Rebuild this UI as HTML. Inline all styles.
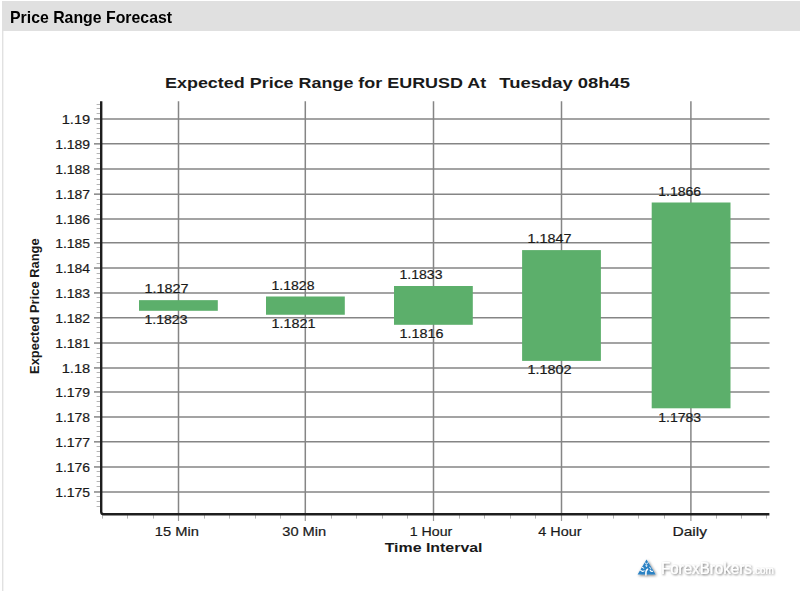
<!DOCTYPE html>
<html><head><meta charset="utf-8"><style>
html,body{margin:0;padding:0;width:800px;height:591px;overflow:hidden;background:#fff;position:relative}
#hdr{position:absolute;left:2px;top:1px;width:798px;height:30px;background:#e0e0e0}
#hdr span{position:absolute;left:8.1px;top:7px;font:bold 16.6px "Liberation Sans", sans-serif;letter-spacing:0px;color:#000;white-space:nowrap;transform:scaleX(0.955);transform-origin:0 0}
#lb{position:absolute;left:2px;top:31px;width:1px;height:560px;background:#e1e1e1;box-shadow:1px 0 0 #f3f3f3}
</style></head><body>
<div id="hdr"><span>Price Range Forecast</span></div>
<div id="lb"></div>
<svg width="800" height="591" style="position:absolute;left:0;top:0">
<line x1="102" y1="118.93" x2="769.5" y2="118.93" stroke="#858585" stroke-width="1.5"/>
<line x1="102" y1="143.84" x2="769.5" y2="143.84" stroke="#858585" stroke-width="1.5"/>
<line x1="102" y1="168.96" x2="769.5" y2="168.96" stroke="#858585" stroke-width="1.5"/>
<line x1="102" y1="194.16" x2="769.5" y2="194.16" stroke="#858585" stroke-width="1.5"/>
<line x1="102" y1="219.06" x2="769.5" y2="219.06" stroke="#858585" stroke-width="1.5"/>
<line x1="102" y1="242.85" x2="769.5" y2="242.85" stroke="#858585" stroke-width="1.5"/>
<line x1="102" y1="268.04" x2="769.5" y2="268.04" stroke="#858585" stroke-width="1.5"/>
<line x1="102" y1="292.94" x2="769.5" y2="292.94" stroke="#858585" stroke-width="1.5"/>
<line x1="102" y1="317.85" x2="769.5" y2="317.85" stroke="#858585" stroke-width="1.5"/>
<line x1="102" y1="343.04" x2="769.5" y2="343.04" stroke="#858585" stroke-width="1.5"/>
<line x1="102" y1="367.94" x2="769.5" y2="367.94" stroke="#858585" stroke-width="1.5"/>
<line x1="102" y1="391.95" x2="769.5" y2="391.95" stroke="#858585" stroke-width="1.5"/>
<line x1="102" y1="416.92" x2="769.5" y2="416.92" stroke="#858585" stroke-width="1.5"/>
<line x1="102" y1="441.83" x2="769.5" y2="441.83" stroke="#858585" stroke-width="1.5"/>
<line x1="102" y1="466.95" x2="769.5" y2="466.95" stroke="#858585" stroke-width="1.5"/>
<line x1="102" y1="491.98" x2="769.5" y2="491.98" stroke="#858585" stroke-width="1.5"/>
<line x1="178.50" y1="101.2" x2="178.50" y2="513" stroke="#858585" stroke-width="1.5"/>
<line x1="305.30" y1="101.2" x2="305.30" y2="513" stroke="#858585" stroke-width="1.5"/>
<line x1="433.50" y1="101.2" x2="433.50" y2="513" stroke="#858585" stroke-width="1.5"/>
<line x1="561.50" y1="101.2" x2="561.50" y2="513" stroke="#858585" stroke-width="1.5"/>
<line x1="690.90" y1="101.2" x2="690.90" y2="513" stroke="#858585" stroke-width="1.5"/>
<rect x="139.00" y="300.15" width="78.8" height="10.65" fill="#5caf6b"/>
<rect x="266.00" y="296.50" width="78.8" height="18.25" fill="#5caf6b"/>
<rect x="394.00" y="286.00" width="78.8" height="38.80" fill="#5caf6b"/>
<rect x="522.10" y="250.10" width="78.8" height="110.80" fill="#5caf6b"/>
<rect x="651.70" y="202.50" width="78.8" height="205.80" fill="#5caf6b"/>
<line x1="96.6" y1="104.50" x2="101" y2="104.50" stroke="#b4b4b4" stroke-width="1"/>
<line x1="96.6" y1="108.50" x2="101" y2="108.50" stroke="#b4b4b4" stroke-width="1"/>
<line x1="96.6" y1="113.50" x2="101" y2="113.50" stroke="#b4b4b4" stroke-width="1"/>
<line x1="94" y1="118.93" x2="101" y2="118.93" stroke="#858585" stroke-width="1.5"/>
<line x1="96.6" y1="123.50" x2="101" y2="123.50" stroke="#b4b4b4" stroke-width="1"/>
<line x1="96.6" y1="128.50" x2="101" y2="128.50" stroke="#b4b4b4" stroke-width="1"/>
<line x1="96.6" y1="133.50" x2="101" y2="133.50" stroke="#b4b4b4" stroke-width="1"/>
<line x1="96.6" y1="138.50" x2="101" y2="138.50" stroke="#b4b4b4" stroke-width="1"/>
<line x1="94" y1="143.84" x2="101" y2="143.84" stroke="#858585" stroke-width="1.5"/>
<line x1="96.6" y1="148.50" x2="101" y2="148.50" stroke="#b4b4b4" stroke-width="1"/>
<line x1="96.6" y1="153.50" x2="101" y2="153.50" stroke="#b4b4b4" stroke-width="1"/>
<line x1="96.6" y1="158.50" x2="101" y2="158.50" stroke="#b4b4b4" stroke-width="1"/>
<line x1="96.6" y1="163.50" x2="101" y2="163.50" stroke="#b4b4b4" stroke-width="1"/>
<line x1="94" y1="168.96" x2="101" y2="168.96" stroke="#858585" stroke-width="1.5"/>
<line x1="96.6" y1="174.50" x2="101" y2="174.50" stroke="#b4b4b4" stroke-width="1"/>
<line x1="96.6" y1="179.50" x2="101" y2="179.50" stroke="#b4b4b4" stroke-width="1"/>
<line x1="96.6" y1="184.50" x2="101" y2="184.50" stroke="#b4b4b4" stroke-width="1"/>
<line x1="96.6" y1="189.50" x2="101" y2="189.50" stroke="#b4b4b4" stroke-width="1"/>
<line x1="94" y1="194.16" x2="101" y2="194.16" stroke="#858585" stroke-width="1.5"/>
<line x1="96.6" y1="199.50" x2="101" y2="199.50" stroke="#b4b4b4" stroke-width="1"/>
<line x1="96.6" y1="204.50" x2="101" y2="204.50" stroke="#b4b4b4" stroke-width="1"/>
<line x1="96.6" y1="209.50" x2="101" y2="209.50" stroke="#b4b4b4" stroke-width="1"/>
<line x1="96.6" y1="214.50" x2="101" y2="214.50" stroke="#b4b4b4" stroke-width="1"/>
<line x1="94" y1="219.06" x2="101" y2="219.06" stroke="#858585" stroke-width="1.5"/>
<line x1="96.6" y1="223.50" x2="101" y2="223.50" stroke="#b4b4b4" stroke-width="1"/>
<line x1="96.6" y1="228.50" x2="101" y2="228.50" stroke="#b4b4b4" stroke-width="1"/>
<line x1="96.6" y1="233.50" x2="101" y2="233.50" stroke="#b4b4b4" stroke-width="1"/>
<line x1="96.6" y1="238.50" x2="101" y2="238.50" stroke="#b4b4b4" stroke-width="1"/>
<line x1="94" y1="242.85" x2="101" y2="242.85" stroke="#858585" stroke-width="1.5"/>
<line x1="96.6" y1="247.50" x2="101" y2="247.50" stroke="#b4b4b4" stroke-width="1"/>
<line x1="96.6" y1="252.50" x2="101" y2="252.50" stroke="#b4b4b4" stroke-width="1"/>
<line x1="96.6" y1="257.50" x2="101" y2="257.50" stroke="#b4b4b4" stroke-width="1"/>
<line x1="96.6" y1="263.50" x2="101" y2="263.50" stroke="#b4b4b4" stroke-width="1"/>
<line x1="94" y1="268.04" x2="101" y2="268.04" stroke="#858585" stroke-width="1.5"/>
<line x1="96.6" y1="273.50" x2="101" y2="273.50" stroke="#b4b4b4" stroke-width="1"/>
<line x1="96.6" y1="278.50" x2="101" y2="278.50" stroke="#b4b4b4" stroke-width="1"/>
<line x1="96.6" y1="282.50" x2="101" y2="282.50" stroke="#b4b4b4" stroke-width="1"/>
<line x1="96.6" y1="287.50" x2="101" y2="287.50" stroke="#b4b4b4" stroke-width="1"/>
<line x1="94" y1="292.94" x2="101" y2="292.94" stroke="#858585" stroke-width="1.5"/>
<line x1="96.6" y1="297.50" x2="101" y2="297.50" stroke="#b4b4b4" stroke-width="1"/>
<line x1="96.6" y1="302.50" x2="101" y2="302.50" stroke="#b4b4b4" stroke-width="1"/>
<line x1="96.6" y1="307.50" x2="101" y2="307.50" stroke="#b4b4b4" stroke-width="1"/>
<line x1="96.6" y1="312.50" x2="101" y2="312.50" stroke="#b4b4b4" stroke-width="1"/>
<line x1="94" y1="317.85" x2="101" y2="317.85" stroke="#858585" stroke-width="1.5"/>
<line x1="96.6" y1="322.50" x2="101" y2="322.50" stroke="#b4b4b4" stroke-width="1"/>
<line x1="96.6" y1="327.50" x2="101" y2="327.50" stroke="#b4b4b4" stroke-width="1"/>
<line x1="96.6" y1="332.50" x2="101" y2="332.50" stroke="#b4b4b4" stroke-width="1"/>
<line x1="96.6" y1="338.50" x2="101" y2="338.50" stroke="#b4b4b4" stroke-width="1"/>
<line x1="94" y1="343.04" x2="101" y2="343.04" stroke="#858585" stroke-width="1.5"/>
<line x1="96.6" y1="348.50" x2="101" y2="348.50" stroke="#b4b4b4" stroke-width="1"/>
<line x1="96.6" y1="353.50" x2="101" y2="353.50" stroke="#b4b4b4" stroke-width="1"/>
<line x1="96.6" y1="357.50" x2="101" y2="357.50" stroke="#b4b4b4" stroke-width="1"/>
<line x1="96.6" y1="362.50" x2="101" y2="362.50" stroke="#b4b4b4" stroke-width="1"/>
<line x1="94" y1="367.94" x2="101" y2="367.94" stroke="#858585" stroke-width="1.5"/>
<line x1="96.6" y1="372.50" x2="101" y2="372.50" stroke="#b4b4b4" stroke-width="1"/>
<line x1="96.6" y1="377.50" x2="101" y2="377.50" stroke="#b4b4b4" stroke-width="1"/>
<line x1="96.6" y1="382.50" x2="101" y2="382.50" stroke="#b4b4b4" stroke-width="1"/>
<line x1="96.6" y1="387.50" x2="101" y2="387.50" stroke="#b4b4b4" stroke-width="1"/>
<line x1="94" y1="391.95" x2="101" y2="391.95" stroke="#858585" stroke-width="1.5"/>
<line x1="96.6" y1="396.50" x2="101" y2="396.50" stroke="#b4b4b4" stroke-width="1"/>
<line x1="96.6" y1="401.50" x2="101" y2="401.50" stroke="#b4b4b4" stroke-width="1"/>
<line x1="96.6" y1="406.50" x2="101" y2="406.50" stroke="#b4b4b4" stroke-width="1"/>
<line x1="96.6" y1="411.50" x2="101" y2="411.50" stroke="#b4b4b4" stroke-width="1"/>
<line x1="94" y1="416.92" x2="101" y2="416.92" stroke="#858585" stroke-width="1.5"/>
<line x1="96.6" y1="421.50" x2="101" y2="421.50" stroke="#b4b4b4" stroke-width="1"/>
<line x1="96.6" y1="426.50" x2="101" y2="426.50" stroke="#b4b4b4" stroke-width="1"/>
<line x1="96.6" y1="431.50" x2="101" y2="431.50" stroke="#b4b4b4" stroke-width="1"/>
<line x1="96.6" y1="436.50" x2="101" y2="436.50" stroke="#b4b4b4" stroke-width="1"/>
<line x1="94" y1="441.83" x2="101" y2="441.83" stroke="#858585" stroke-width="1.5"/>
<line x1="96.6" y1="446.50" x2="101" y2="446.50" stroke="#b4b4b4" stroke-width="1"/>
<line x1="96.6" y1="451.50" x2="101" y2="451.50" stroke="#b4b4b4" stroke-width="1"/>
<line x1="96.6" y1="456.50" x2="101" y2="456.50" stroke="#b4b4b4" stroke-width="1"/>
<line x1="96.6" y1="461.50" x2="101" y2="461.50" stroke="#b4b4b4" stroke-width="1"/>
<line x1="94" y1="466.95" x2="101" y2="466.95" stroke="#858585" stroke-width="1.5"/>
<line x1="96.6" y1="471.50" x2="101" y2="471.50" stroke="#b4b4b4" stroke-width="1"/>
<line x1="96.6" y1="476.50" x2="101" y2="476.50" stroke="#b4b4b4" stroke-width="1"/>
<line x1="96.6" y1="481.50" x2="101" y2="481.50" stroke="#b4b4b4" stroke-width="1"/>
<line x1="96.6" y1="486.50" x2="101" y2="486.50" stroke="#b4b4b4" stroke-width="1"/>
<line x1="94" y1="491.98" x2="101" y2="491.98" stroke="#858585" stroke-width="1.5"/>
<line x1="96.6" y1="496.50" x2="101" y2="496.50" stroke="#b4b4b4" stroke-width="1"/>
<line x1="96.6" y1="501.50" x2="101" y2="501.50" stroke="#b4b4b4" stroke-width="1"/>
<line x1="96.6" y1="506.50" x2="101" y2="506.50" stroke="#b4b4b4" stroke-width="1"/>
<line x1="178.50" y1="514" x2="178.50" y2="521" stroke="#9a9a9a" stroke-width="1.2"/>
<line x1="305.30" y1="514" x2="305.30" y2="521" stroke="#9a9a9a" stroke-width="1.2"/>
<line x1="433.50" y1="514" x2="433.50" y2="521" stroke="#9a9a9a" stroke-width="1.2"/>
<line x1="561.50" y1="514" x2="561.50" y2="521" stroke="#9a9a9a" stroke-width="1.2"/>
<line x1="690.90" y1="514" x2="690.90" y2="521" stroke="#9a9a9a" stroke-width="1.2"/>
<line x1="102.50" y1="514" x2="102.50" y2="518.6" stroke="#b4b4b4" stroke-width="1"/>
<line x1="127.50" y1="514" x2="127.50" y2="518.6" stroke="#b4b4b4" stroke-width="1"/>
<line x1="153.50" y1="514" x2="153.50" y2="518.6" stroke="#b4b4b4" stroke-width="1"/>
<line x1="204.50" y1="514" x2="204.50" y2="518.6" stroke="#b4b4b4" stroke-width="1"/>
<line x1="229.50" y1="514" x2="229.50" y2="518.6" stroke="#b4b4b4" stroke-width="1"/>
<line x1="255.50" y1="514" x2="255.50" y2="518.6" stroke="#b4b4b4" stroke-width="1"/>
<line x1="280.50" y1="514" x2="280.50" y2="518.6" stroke="#b4b4b4" stroke-width="1"/>
<line x1="331.50" y1="514" x2="331.50" y2="518.6" stroke="#b4b4b4" stroke-width="1"/>
<line x1="356.50" y1="514" x2="356.50" y2="518.6" stroke="#b4b4b4" stroke-width="1"/>
<line x1="382.50" y1="514" x2="382.50" y2="518.6" stroke="#b4b4b4" stroke-width="1"/>
<line x1="407.50" y1="514" x2="407.50" y2="518.6" stroke="#b4b4b4" stroke-width="1"/>
<line x1="459.50" y1="514" x2="459.50" y2="518.6" stroke="#b4b4b4" stroke-width="1"/>
<line x1="484.50" y1="514" x2="484.50" y2="518.6" stroke="#b4b4b4" stroke-width="1"/>
<line x1="510.50" y1="514" x2="510.50" y2="518.6" stroke="#b4b4b4" stroke-width="1"/>
<line x1="535.50" y1="514" x2="535.50" y2="518.6" stroke="#b4b4b4" stroke-width="1"/>
<line x1="587.50" y1="514" x2="587.50" y2="518.6" stroke="#b4b4b4" stroke-width="1"/>
<line x1="613.50" y1="514" x2="613.50" y2="518.6" stroke="#b4b4b4" stroke-width="1"/>
<line x1="638.50" y1="514" x2="638.50" y2="518.6" stroke="#b4b4b4" stroke-width="1"/>
<line x1="664.50" y1="514" x2="664.50" y2="518.6" stroke="#b4b4b4" stroke-width="1"/>
<line x1="716.50" y1="514" x2="716.50" y2="518.6" stroke="#b4b4b4" stroke-width="1"/>
<line x1="741.50" y1="514" x2="741.50" y2="518.6" stroke="#b4b4b4" stroke-width="1"/>
<line x1="766.50" y1="514" x2="766.50" y2="518.6" stroke="#b4b4b4" stroke-width="1"/>
<path d="M101.2 101.2 L101.2 511.7 Q101.2 514.2 103.7 514.2 L769.4 514.2" fill="none" stroke="#1e1e1e" stroke-width="2.4"/>
<text x="165.00" y="87.50" font-family='"Liberation Sans", sans-serif' font-size="15.5" fill="#1a1a1a" font-weight="bold" textLength="321.20" lengthAdjust="spacingAndGlyphs" xml:space="preserve">Expected Price Range for EURUSD At</text>
<text x="499.30" y="87.50" font-family='"Liberation Sans", sans-serif' font-size="15.5" fill="#1a1a1a" font-weight="bold" textLength="130.82" lengthAdjust="spacingAndGlyphs" xml:space="preserve">Tuesday 08h45</text>
<text x="61.70" y="123.63" font-family='"Liberation Sans", sans-serif' font-size="12.7" fill="#1a1a1a" stroke="#1a1a1a" stroke-width="0.2" textLength="28.53" lengthAdjust="spacingAndGlyphs" xml:space="preserve">1.19</text>
<text x="55.20" y="148.54" font-family='"Liberation Sans", sans-serif' font-size="12.7" fill="#1a1a1a" stroke="#1a1a1a" stroke-width="0.2" textLength="34.92" lengthAdjust="spacingAndGlyphs" xml:space="preserve">1.189</text>
<text x="55.20" y="173.66" font-family='"Liberation Sans", sans-serif' font-size="12.7" fill="#1a1a1a" stroke="#1a1a1a" stroke-width="0.2" textLength="34.92" lengthAdjust="spacingAndGlyphs" xml:space="preserve">1.188</text>
<text x="55.20" y="198.86" font-family='"Liberation Sans", sans-serif' font-size="12.7" fill="#1a1a1a" stroke="#1a1a1a" stroke-width="0.2" textLength="34.92" lengthAdjust="spacingAndGlyphs" xml:space="preserve">1.187</text>
<text x="55.20" y="223.76" font-family='"Liberation Sans", sans-serif' font-size="12.7" fill="#1a1a1a" stroke="#1a1a1a" stroke-width="0.2" textLength="34.92" lengthAdjust="spacingAndGlyphs" xml:space="preserve">1.186</text>
<text x="55.20" y="247.55" font-family='"Liberation Sans", sans-serif' font-size="12.7" fill="#1a1a1a" stroke="#1a1a1a" stroke-width="0.2" textLength="34.92" lengthAdjust="spacingAndGlyphs" xml:space="preserve">1.185</text>
<text x="55.20" y="272.74" font-family='"Liberation Sans", sans-serif' font-size="12.7" fill="#1a1a1a" stroke="#1a1a1a" stroke-width="0.2" textLength="34.92" lengthAdjust="spacingAndGlyphs" xml:space="preserve">1.184</text>
<text x="55.20" y="297.64" font-family='"Liberation Sans", sans-serif' font-size="12.7" fill="#1a1a1a" stroke="#1a1a1a" stroke-width="0.2" textLength="34.92" lengthAdjust="spacingAndGlyphs" xml:space="preserve">1.183</text>
<text x="55.20" y="322.55" font-family='"Liberation Sans", sans-serif' font-size="12.7" fill="#1a1a1a" stroke="#1a1a1a" stroke-width="0.2" textLength="34.92" lengthAdjust="spacingAndGlyphs" xml:space="preserve">1.182</text>
<text x="55.20" y="347.74" font-family='"Liberation Sans", sans-serif' font-size="12.7" fill="#1a1a1a" stroke="#1a1a1a" stroke-width="0.2" textLength="34.92" lengthAdjust="spacingAndGlyphs" xml:space="preserve">1.181</text>
<text x="61.70" y="372.64" font-family='"Liberation Sans", sans-serif' font-size="12.7" fill="#1a1a1a" stroke="#1a1a1a" stroke-width="0.2" textLength="28.53" lengthAdjust="spacingAndGlyphs" xml:space="preserve">1.18</text>
<text x="55.20" y="396.65" font-family='"Liberation Sans", sans-serif' font-size="12.7" fill="#1a1a1a" stroke="#1a1a1a" stroke-width="0.2" textLength="34.92" lengthAdjust="spacingAndGlyphs" xml:space="preserve">1.179</text>
<text x="55.20" y="421.62" font-family='"Liberation Sans", sans-serif' font-size="12.7" fill="#1a1a1a" stroke="#1a1a1a" stroke-width="0.2" textLength="34.92" lengthAdjust="spacingAndGlyphs" xml:space="preserve">1.178</text>
<text x="55.20" y="446.53" font-family='"Liberation Sans", sans-serif' font-size="12.7" fill="#1a1a1a" stroke="#1a1a1a" stroke-width="0.2" textLength="34.92" lengthAdjust="spacingAndGlyphs" xml:space="preserve">1.177</text>
<text x="55.20" y="471.65" font-family='"Liberation Sans", sans-serif' font-size="12.7" fill="#1a1a1a" stroke="#1a1a1a" stroke-width="0.2" textLength="34.92" lengthAdjust="spacingAndGlyphs" xml:space="preserve">1.176</text>
<text x="55.20" y="496.68" font-family='"Liberation Sans", sans-serif' font-size="12.7" fill="#1a1a1a" stroke="#1a1a1a" stroke-width="0.2" textLength="34.92" lengthAdjust="spacingAndGlyphs" xml:space="preserve">1.175</text>
<text x="144.50" y="293.45" font-family='"Liberation Sans", sans-serif' font-size="12.7" fill="#1a1a1a" stroke="#1a1a1a" stroke-width="0.2" textLength="43.99" lengthAdjust="spacingAndGlyphs" xml:space="preserve">1.1827</text>
<text x="144.50" y="324.10" font-family='"Liberation Sans", sans-serif' font-size="12.7" fill="#1a1a1a" stroke="#1a1a1a" stroke-width="0.2" textLength="42.95" lengthAdjust="spacingAndGlyphs" xml:space="preserve">1.1823</text>
<text x="271.50" y="289.80" font-family='"Liberation Sans", sans-serif' font-size="12.7" fill="#1a1a1a" stroke="#1a1a1a" stroke-width="0.2" textLength="42.95" lengthAdjust="spacingAndGlyphs" xml:space="preserve">1.1828</text>
<text x="271.50" y="328.05" font-family='"Liberation Sans", sans-serif' font-size="12.7" fill="#1a1a1a" stroke="#1a1a1a" stroke-width="0.2" textLength="43.99" lengthAdjust="spacingAndGlyphs" xml:space="preserve">1.1821</text>
<text x="399.50" y="279.30" font-family='"Liberation Sans", sans-serif' font-size="12.7" fill="#1a1a1a" stroke="#1a1a1a" stroke-width="0.2" textLength="42.95" lengthAdjust="spacingAndGlyphs" xml:space="preserve">1.1833</text>
<text x="399.50" y="338.10" font-family='"Liberation Sans", sans-serif' font-size="12.7" fill="#1a1a1a" stroke="#1a1a1a" stroke-width="0.2" textLength="43.99" lengthAdjust="spacingAndGlyphs" xml:space="preserve">1.1816</text>
<text x="527.60" y="243.40" font-family='"Liberation Sans", sans-serif' font-size="12.7" fill="#1a1a1a" stroke="#1a1a1a" stroke-width="0.2" textLength="43.99" lengthAdjust="spacingAndGlyphs" xml:space="preserve">1.1847</text>
<text x="527.60" y="374.20" font-family='"Liberation Sans", sans-serif' font-size="12.7" fill="#1a1a1a" stroke="#1a1a1a" stroke-width="0.2" textLength="43.99" lengthAdjust="spacingAndGlyphs" xml:space="preserve">1.1802</text>
<text x="658.20" y="195.80" font-family='"Liberation Sans", sans-serif' font-size="12.7" fill="#1a1a1a" stroke="#1a1a1a" stroke-width="0.2" textLength="42.89" lengthAdjust="spacingAndGlyphs" xml:space="preserve">1.1866</text>
<text x="658.20" y="421.60" font-family='"Liberation Sans", sans-serif' font-size="12.7" fill="#1a1a1a" stroke="#1a1a1a" stroke-width="0.2" textLength="42.89" lengthAdjust="spacingAndGlyphs" xml:space="preserve">1.1783</text>
<text x="154.75" y="536.00" font-family='"Liberation Sans", sans-serif' font-size="12.7" fill="#1a1a1a" stroke="#1a1a1a" stroke-width="0.2" textLength="44.10" lengthAdjust="spacingAndGlyphs" xml:space="preserve">15 Min</text>
<text x="282.25" y="536.00" font-family='"Liberation Sans", sans-serif' font-size="12.7" fill="#1a1a1a" stroke="#1a1a1a" stroke-width="0.2" textLength="43.95" lengthAdjust="spacingAndGlyphs" xml:space="preserve">30 Min</text>
<text x="409.70" y="536.00" font-family='"Liberation Sans", sans-serif' font-size="12.7" fill="#1a1a1a" stroke="#1a1a1a" stroke-width="0.2" textLength="42.59" lengthAdjust="spacingAndGlyphs" xml:space="preserve">1 Hour</text>
<text x="538.30" y="536.00" font-family='"Liberation Sans", sans-serif' font-size="12.7" fill="#1a1a1a" stroke="#1a1a1a" stroke-width="0.2" textLength="43.25" lengthAdjust="spacingAndGlyphs" xml:space="preserve">4 Hour</text>
<text x="672.40" y="536.00" font-family='"Liberation Sans", sans-serif' font-size="12.7" fill="#1a1a1a" stroke="#1a1a1a" stroke-width="0.2" textLength="34.60" lengthAdjust="spacingAndGlyphs" xml:space="preserve">Daily</text>
<text x="384.70" y="551.80" font-family='"Liberation Sans", sans-serif' font-size="13.6" fill="#1a1a1a" font-weight="bold" textLength="97.84" lengthAdjust="spacingAndGlyphs" xml:space="preserve">Time Interval</text>
<text transform="translate(38.8,306.20) rotate(-90)" x="0" y="0" text-anchor="middle" font-family='"Liberation Sans", sans-serif' font-weight="bold" font-size="12" fill="#1a1a1a" textLength="135.53" lengthAdjust="spacingAndGlyphs">Expected Price Range</text>
<defs><filter id="sh" x="-30%" y="-80%" width="160%" height="260%"><feMorphology in="SourceAlpha" operator="dilate" radius="0.4" result="d"/><feGaussianBlur in="d" stdDeviation="1.4"/><feOffset dx="0.6" dy="1.1" result="b"/><feComponentTransfer><feFuncA type="linear" slope="0.55"/></feComponentTransfer><feMerge><feMergeNode/><feMergeNode in="SourceGraphic"/></feMerge></filter></defs>
<g filter="url(#sh)">
<path d="M646.5 559.6 L655.7 574.4 L637.6 574.4 Z" fill="#2c82c4"/>
<g fill="none" stroke="#fff" stroke-linecap="round"><path d="M645.1 562.9 L646.5 563.9 L647.9 562.9" stroke-width="0.9"/><path d="M646.5 564.9 L647.2 565.9 L646.5 566.8 L645.8 565.9 Z" fill="#fff" stroke-width="0.5"/><path d="M647.6 569.2 Q645.5 570.6 645.9 574.6" stroke-width="1.5"/><path d="M640.5 570.2 Q642.2 572.2 644.1 570.9" stroke-width="1.1"/><path d="M642.4 567.5 L643.8 568.2" stroke-width="1"/><path d="M649.6 567.4 L650.9 568.5" stroke-width="1"/><path d="M650.1 570.1 Q651.2 571.9 652.6 571.3" stroke-width="1.1"/></g>
</g>
<defs><filter id="sh2" x="-10%" y="-60%" width="120%" height="220%"><feGaussianBlur in="SourceAlpha" stdDeviation="1.1"/><feOffset dx="0.6" dy="1.1" result="b"/><feColorMatrix type="matrix" values="0 0 0 0 0  0 0 0 0 0  0 0 0 0 0  0 0 0 0.6 0"/><feMerge><feMergeNode/><feMergeNode in="SourceGraphic"/></feMerge></filter></defs>
<g filter="url(#sh2)">
<text x="660.9" y="574" font-family='"Liberation Sans", sans-serif' font-size="15.6" fill="#fff" stroke="#fff" stroke-width="0" textLength="91" lengthAdjust="spacingAndGlyphs">ForexBrokers</text>
<text x="752.3" y="574" font-family='"Liberation Sans", sans-serif' font-size="10.5" fill="#fff" textLength="21.5" lengthAdjust="spacingAndGlyphs">.com</text>
</g>
</svg>
</body></html>
